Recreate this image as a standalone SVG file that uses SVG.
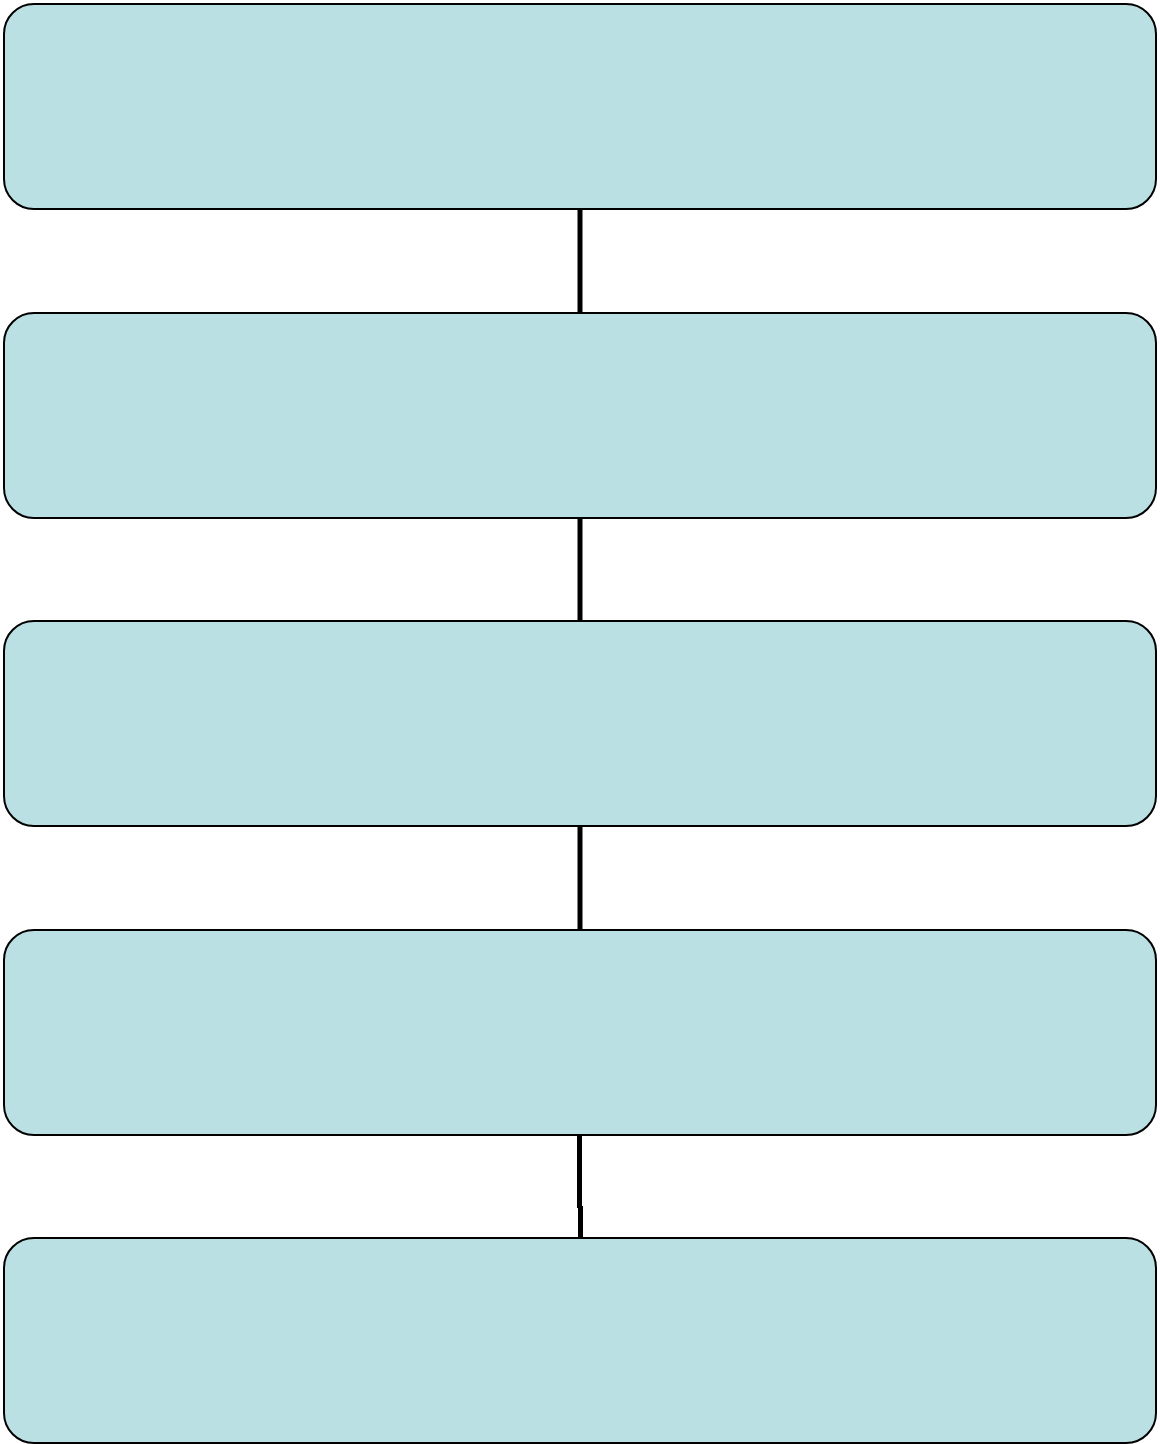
<svg xmlns="http://www.w3.org/2000/svg" width="1160" height="1444" viewBox="0 0 1160 1444">
<style>
.box{fill:#BBE0E3;stroke:#000;stroke-width:2}
.conn{stroke:#000;stroke-width:5;fill:none}
</style>
<rect width="1160" height="1444" fill="#fff"/>
<g id="connectors">
<line class="conn" x1="580" y1="209" x2="580" y2="313"/>
<line class="conn" x1="580" y1="518" x2="580" y2="621"/>
<line class="conn" x1="580" y1="826" x2="580" y2="930"/>
<path class="conn" d="M579.5 1135 V1208 M580.5 1206 V1238"/>
</g>
<g id="node1"><rect class="box" x="4" y="4" width="1152" height="205" rx="30" ry="30"/></g>
<g id="node2"><rect class="box" x="4" y="313" width="1152" height="205" rx="30" ry="30"/></g>
<g id="node3"><rect class="box" x="4" y="621" width="1152" height="205" rx="30" ry="30"/></g>
<g id="node4"><rect class="box" x="4" y="930" width="1152" height="205" rx="30" ry="30"/></g>
<g id="node5"><rect class="box" x="4" y="1238" width="1152" height="205" rx="30" ry="30"/></g>
</svg>
